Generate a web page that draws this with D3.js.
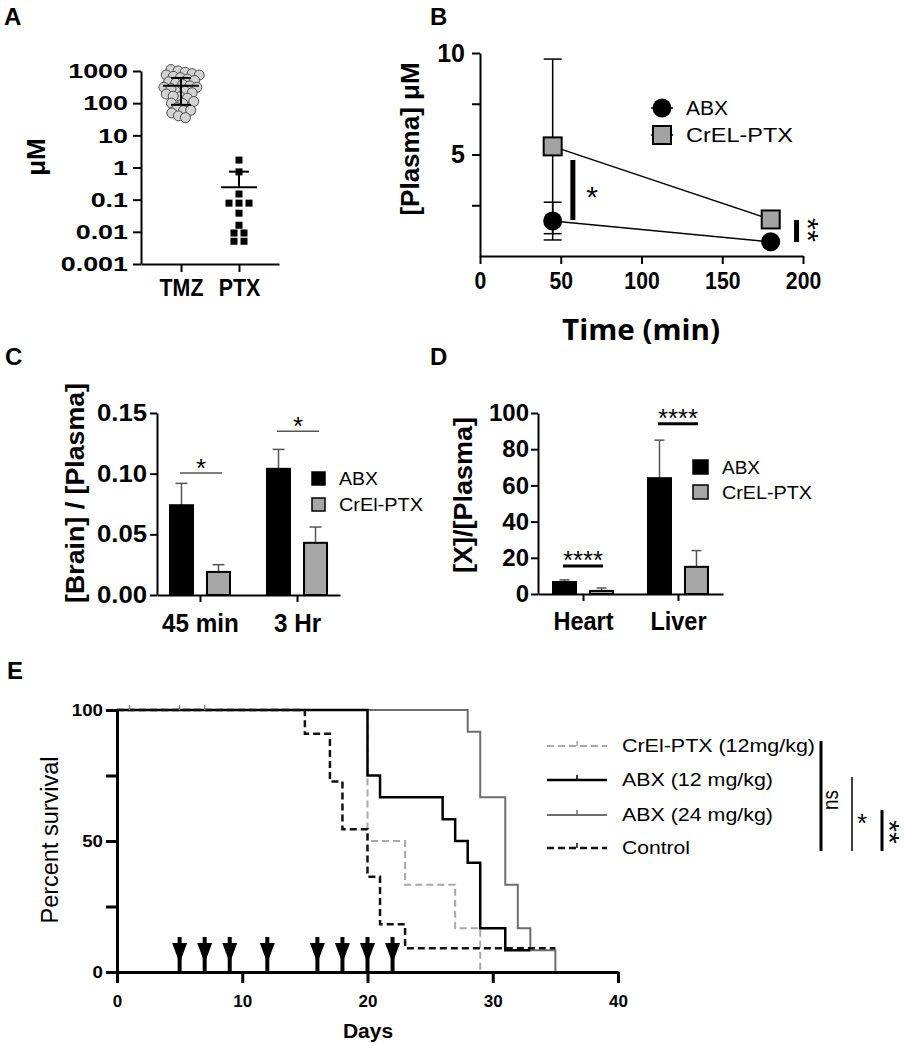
<!DOCTYPE html>
<html><head><meta charset="utf-8">
<script src="https://cdn.jsdelivr.net/npm/d3@7"></script>
<style>body{margin:0;background:#fff} svg{display:block}</style>
</head><body><svg id="fig" width="906" height="1050"></svg>
<script>
// ---------------- DATA ----------------
const panelLetters = ["A","B","C","D","E"];

// Panel A
const groupsA = ["TMZ","PTX"];
const tmzValues = [900,850,800,780,700,650,600,550,500,480,450,420,400,380,350,320,300,280,250,230,200,180,160,140,120,100,90,80,70,60,50,45,40];
const ptxValues = [1.7,0.73,0.15,0.078,0.078,0.078,0.038,0.016,0.0092,0.0092,0.0051,0.0051];
const logTicksA = [1000,100,10,1,0.1,0.01,0.001];
const logTickLabelsA = ["1000","100","10","1","0.1","0.01","0.001"];

// Panel B
const timesB = [45,180];
const abxPlasma = [1.72,0.70];
const abxPlasmaSD = [0.93,0.10];
const crelPlasma = [5.4,1.8];
const crelPlasmaSD = [4.3,0.3];
const ticksBx = [0,50,100,150,200];
const ticksBy = [2.5,5,7.5,10];
const labelsBy = {5:"5",10:"10"};
const seriesB = ["ABX","CrEL-PTX"];

// Panel C
const catsC = ["45 min","3 Hr"];
const seriesC = ["ABX","CrEl-PTX"];
const abxBrain = [0.074,0.104];
const abxBrainSD = [0.018,0.016];
const crelBrain = [0.019,0.043];
const crelBrainSD = [0.006,0.013];
const ticksC = [0,0.05,0.10,0.15];
const tickLabelsC = ["0.00","0.05","0.10","0.15"];

// Panel D
const catsD = ["Heart","Liver"];
const seriesD = ["ABX","CrEL-PTX"];
const abxOrgan = [6.6,64];
const abxOrganSD = [1.2,21];
const crelOrgan = [1.7,15];
const crelOrganSD = [1.6,9];
const ticksD = [0,20,40,60,80,100];

// Panel E (Kaplan-Meier)
const crelDays = [0,20,23,27,29];
const crelSurv = [100,50,33.3,16.7,0];
const abx12Days = [0,20,21,26,27,28,29,31,33];
const abx12Surv = [100,75,66.7,58.3,50,41.7,16.7,8.3,8.3];
const abx24Days = [0,28,29,31,32,33,35];
const abx24Surv = [100,91.7,66.7,33.3,16.7,8.3,0];
const ctrlDays = [0,15,17,18,20,21,23,35];
const ctrlSurv = [100,90.9,72.7,54.5,36.4,18.2,9.1,9.1];
const censorDays = [1,5,7];
const doseDays = [5,7,9,12,16,18,20,22];
const ticksEx = [0,10,20,30,40];
const ticksEy = [0,25,50,75,100];
const legendE = ["CrEl-PTX (12mg/kg)","ABX (12 mg/kg)","ABX (24 mg/kg)","Control"];

// ---------------- HELPERS ----------------
const FONT = '"Liberation Sans", Arial, Helvetica, sans-serif';
const svg = d3.select("#fig");
svg.append("rect").attr("width",906).attr("height",1050).attr("fill","#fff");

function T(p, s, x, y, o = {}) {
  const t = p.append("text").attr("x", x).attr("y", y).text(s)
    .attr("font-family", o.family || FONT)
    .attr("font-size", o.size || 16)
    .attr("font-weight", o.bold ? "bold" : "normal")
    .attr("text-anchor", o.anchor || "start")
    .attr("fill", o.fill || "#000");
  if (o.rotate != null) t.attr("transform", `rotate(${o.rotate},${x},${y})`);
  if (o.width) t.attr("textLength", o.width).attr("lengthAdjust", "spacingAndGlyphs");
  return t;
}
function stretch(sel, sx) {
  sel.each(function () {
    const w = this.getComputedTextLength();
    d3.select(this).attr("textLength", w * sx).attr("lengthAdjust", "spacingAndGlyphs");
  });
}
function styleAxis(g, sw, fs, bold) {
  g.select(".domain").attr("stroke", "#000").attr("stroke-width", sw);
  g.selectAll(".tick line").attr("stroke", "#000").attr("stroke-width", sw);
  g.selectAll("text").attr("font-size", fs).attr("font-weight", bold ? "bold" : "normal")
    .attr("font-family", FONT).attr("fill", "#000");
}

// panel letters
const letterPos = [[4,25],[430,25],[5,365],[430,365],[7,679]];
panelLetters.forEach((L,i)=>T(svg, L, letterPos[i][0], letterPos[i][1], {size:24, bold:true}));

// ---------------- PANEL A ----------------
const gA = svg.append("g");
const yA = d3.scaleLog().domain([0.001,1000]).range([264,71]);
const xA = d3.scalePoint().domain(groupsA).range([141,279]).padding(0.69);
const axYA = gA.append("g").attr("transform","translate(141,0)")
  .call(d3.axisLeft(yA).tickValues(logTicksA).tickFormat((d,i)=>logTickLabelsA[i]).tickSize(8).tickSizeOuter(0).tickPadding(5));
styleAxis(axYA, 2, 21, true); stretch(axYA.selectAll("text"), 1.28);
const axXA = gA.append("g").attr("transform","translate(0,264)")
  .call(d3.axisBottom(xA).tickSize(8).tickSizeOuter(0).tickPadding(8));
styleAxis(axXA, 2, 23, true); stretch(axXA.selectAll("text"), 0.93);
T(gA, "μM", 45, 157, {size:26, bold:true, anchor:"middle", rotate:-90});

// TMZ beeswarm
const cxT = xA("TMZ");
const nodes = tmzValues.map((v,i)=>({v, x: cxT + ((i%5)-2)*3, y: yA(v)}));
const sim = d3.forceSimulation(nodes)
  .force("x", d3.forceX(cxT).strength(0.12))
  .force("y", d3.forceY(d=>yA(d.v)).strength(0.9))
  .force("c", d3.forceCollide(3.6)).stop();
for (let i=0;i<250;i++) sim.tick();
gA.append("g").selectAll("circle").data(nodes).join("circle")
  .attr("cx",d=>d.x).attr("cy",d=>d.y).attr("r",5)
  .attr("fill","#d3d3d3").attr("stroke","#4a4a4a").attr("stroke-width",1);

// PTX squares with horizontal dodge for equal values
const cxP = xA("PTX");
const ptxGroups = d3.groups(ptxValues, v=>v);
ptxGroups.forEach(([v, arr])=>{
  arr.forEach((_,k)=>{
    const dx = (k - (arr.length-1)/2) * 10;
    gA.append("rect").attr("x", cxP+dx-3.5).attr("y", yA(v)-3.5).attr("width",7).attr("height",7).attr("fill","#000");
  });
});
function meanSD(g, cx, vals, yS) {
  const m = d3.mean(vals), s = d3.deviation(vals);
  const top = yS(m+s), bot = (m-s>0) ? yS(m-s) : yS(m);
  g.append("line").attr("x1",cx).attr("x2",cx).attr("y1",top).attr("y2",bot).attr("stroke","#000").attr("stroke-width",2);
  g.append("line").attr("x1",cx-18).attr("x2",cx+18).attr("y1",yS(m)).attr("y2",yS(m)).attr("stroke","#000").attr("stroke-width",2);
  g.append("line").attr("x1",cx-10).attr("x2",cx+10).attr("y1",top).attr("y2",top).attr("stroke","#000").attr("stroke-width",2);
  if (m-s>0) g.append("line").attr("x1",cx-10).attr("x2",cx+10).attr("y1",bot).attr("y2",bot).attr("stroke","#000").attr("stroke-width",2);
}
meanSD(gA, cxT, tmzValues, yA);
meanSD(gA, cxP, ptxValues, yA);

// ---------------- PANEL B ----------------
const gB = svg.append("g");
const xB = d3.scaleLinear().domain([0,200]).range([480,803]);
const yB = d3.scaleLinear().domain([0,10]).range([256,53]);
const axYB = gB.append("g").attr("transform","translate(480,0)")
  .call(d3.axisLeft(yB).tickValues(ticksBy).tickFormat(d=>labelsBy[d]||"").tickSize(8).tickSizeOuter(0).tickPadding(7));
styleAxis(axYB, 2, 25, true);
const axXB = gB.append("g").attr("transform","translate(0,256)")
  .call(d3.axisBottom(xB).tickValues(ticksBx).tickSize(8).tickSizeOuter(0).tickPadding(9));
styleAxis(axXB, 2, 23, true); stretch(axXB.selectAll("text"), 0.92);
T(gB, "[Plasma] μM", 419, 139, {size:26, bold:true, anchor:"middle", rotate:-90});
T(gB, "Time (min)", 641, 340, {size:28, bold:true, anchor:"middle", family:'"Open Sans", sans-serif', width:158});

const lineB = d3.line().x((d,i)=>xB(timesB[i])).y(d=>yB(d));
gB.append("path").attr("d", lineB(crelPlasma)).attr("fill","none").attr("stroke","#000").attr("stroke-width",1.5);
gB.append("path").attr("d", lineB(abxPlasma)).attr("fill","none").attr("stroke","#000").attr("stroke-width",1.5);
function errB(vals, sds) {
  vals.forEach((m,i)=>{
    const x = xB(timesB[i]), t = yB(m+sds[i]), b = yB(Math.max(m-sds[i],0));
    gB.append("line").attr("x1",x).attr("x2",x).attr("y1",t).attr("y2",b).attr("stroke","#000").attr("stroke-width",1.5);
    [t,b].forEach(yy=>gB.append("line").attr("x1",x-9).attr("x2",x+9).attr("y1",yy).attr("y2",yy).attr("stroke","#000").attr("stroke-width",1.5));
  });
}
errB(crelPlasma, crelPlasmaSD);
errB(abxPlasma, abxPlasmaSD);
crelPlasma.forEach((m,i)=>gB.append("rect").attr("x",xB(timesB[i])-9).attr("y",yB(m)-9).attr("width",18).attr("height",18)
  .attr("fill","#a3a3a3").attr("stroke","#000").attr("stroke-width",2));
abxPlasma.forEach((m,i)=>gB.append("circle").attr("cx",xB(timesB[i])).attr("cy",yB(m)).attr("r",9.5).attr("fill","#000"));
// legend B
gB.append("line").attr("x1",651).attr("x2",673).attr("y1",108).attr("y2",108).attr("stroke","#000").attr("stroke-width",1.5);
gB.append("circle").attr("cx",662).attr("cy",108).attr("r",9.5).attr("fill","#000");
gB.append("line").attr("x1",651).attr("x2",673).attr("y1",135).attr("y2",135).attr("stroke","#000").attr("stroke-width",1.5);
gB.append("rect").attr("x",653).attr("y",126).attr("width",18).attr("height",18).attr("fill","#a3a3a3").attr("stroke","#000").attr("stroke-width",2);
T(gB, seriesB[0], 686, 115, {size:20, width:42});
T(gB, seriesB[1], 686, 142, {size:20, width:107});
// significance
gB.append("rect").attr("x",xB(57.5)-2.5).attr("y",yB(4.73)).attr("width",5).attr("height",yB(1.77)-yB(4.73)).attr("fill","#000");
T(gB, "*", 592, 207, {size:30, anchor:"middle"});
gB.append("rect").attr("x",xB(196)-2.5).attr("y",yB(1.77)).attr("width",5).attr("height",yB(0.69)-yB(1.77)).attr("fill","#000");
T(gB, "**", 815-17, 230, {size:30, anchor:"middle", rotate:90, width:24});

// ---------------- PANEL C ----------------
const gC = svg.append("g");
const yC = d3.scaleLinear().domain([0,0.15]).range([595,413]);
const xC = d3.scalePoint().domain(catsC).range([157,340]).padding(0.443);
const subC = d3.scalePoint().domain(seriesC).range([-18.5,18.5]);
const axYC = gC.append("g").attr("transform","translate(157,0)")
  .call(d3.axisLeft(yC).tickValues(ticksC).tickFormat((d,i)=>tickLabelsC[i]).tickSize(7).tickSizeOuter(0).tickPadding(3));
styleAxis(axYC, 2, 23, true); axYC.selectAll("text").attr("textLength",50).attr("lengthAdjust","spacingAndGlyphs");
const axXC = gC.append("g").attr("transform","translate(0,595)")
  .call(d3.axisBottom(xC).tickSize(7).tickSizeOuter(0).tickPadding(12));
styleAxis(axXC, 2, 25, true); stretch(axXC.selectAll("text"), 0.97);
T(gC, "[Brain] / [Plasma]", 84, 493, {size:26, bold:true, anchor:"middle", rotate:-90, width:220});

function bars(g, cats, xS, subS, yS, series, vals, sds, fill, capHalf) {
  vals.forEach((v,i)=>{
    const cx = xS(cats[i]) + subS(series);
    const top = yS(v), et = yS(v+sds[i]);
    g.append("line").attr("x1",cx).attr("x2",cx).attr("y1",top).attr("y2",et).attr("stroke","#555").attr("stroke-width",1.5);
    g.append("line").attr("x1",cx-capHalf).attr("x2",cx+capHalf).attr("y1",et).attr("y2",et).attr("stroke","#555").attr("stroke-width",1.5);
    g.append("rect").attr("x",cx-11.5).attr("y",top).attr("width",23).attr("height",yS(0)-top)
      .attr("fill",fill).attr("stroke","#000").attr("stroke-width",2);
  });
}
bars(gC, catsC, xC, subC, yC, seriesC[0], abxBrain, abxBrainSD, "#000", 6);
bars(gC, catsC, xC, subC, yC, seriesC[1], crelBrain, crelBrainSD, "#a6a6a6", 6);
axXC.raise();
// significance C
[[0.1005,"45 min"],[0.135,"3 Hr"]].forEach(([v,c])=>{
  const cx = xC(c);
  gC.append("line").attr("x1",cx-20).attr("x2",cx+22).attr("y1",yC(v)).attr("y2",yC(v)).attr("stroke","#555").attr("stroke-width",1.5);
  T(gC, "*", cx+1, yC(v)+4, {size:26, anchor:"middle"});
});
// legend C
gC.append("rect").attr("x",312).attr("y",472).attr("width",13).attr("height",13).attr("fill","#000").attr("stroke","#000").attr("stroke-width",1.5);
gC.append("rect").attr("x",312).attr("y",498).attr("width",13).attr("height",13).attr("fill","#a6a6a6").attr("stroke","#000").attr("stroke-width",1.5);
T(gC, seriesC[0], 339, 485, {size:18, width:39});
T(gC, seriesC[1], 339, 511, {size:18, width:84});

// ---------------- PANEL D ----------------
const gD = svg.append("g");
const yD = d3.scaleLinear().domain([0,100]).range([594,413]);
const xD = d3.scalePoint().domain(catsD).range([538,723]).padding(0.474);
const subD = d3.scalePoint().domain(seriesD).range([-18.5,18.5]);
const axYD = gD.append("g").attr("transform","translate(538,0)")
  .call(d3.axisLeft(yD).tickValues(ticksD).tickSize(7).tickSizeOuter(0).tickPadding(2));
styleAxis(axYD, 2, 24, true);
const axXD = gD.append("g").attr("transform","translate(0,594)")
  .call(d3.axisBottom(xD).tickSize(7).tickSizeOuter(0).tickPadding(11));
styleAxis(axXD, 2, 25, true); stretch(axXD.selectAll("text"), 0.94);
T(gD, "[X]/[Plasma]", 472, 495, {size:26, bold:true, anchor:"middle", rotate:-90, width:156});
bars(gD, catsD, xD, subD, yD, seriesD[0], abxOrgan, abxOrganSD, "#000", 5);
bars(gD, catsD, xD, subD, yD, seriesD[1], crelOrgan, crelOrganSD, "#a6a6a6", 5);
axXD.raise();
[[15.5,"Heart"],[94,"Liver"]].forEach(([v,c])=>{
  const cx = xD(c);
  gD.append("line").attr("x1",cx-20).attr("x2",cx+20).attr("y1",yD(v)).attr("y2",yD(v)).attr("stroke","#000").attr("stroke-width",3);
  T(gD, "****", cx, yD(v)+3, {size:26, anchor:"middle", width:40});
});
gD.append("rect").attr("x",693).attr("y",460).attr("width",15).attr("height",14).attr("fill","#000").attr("stroke","#000").attr("stroke-width",1.5);
gD.append("rect").attr("x",693).attr("y",485).attr("width",15).attr("height",14).attr("fill","#a6a6a6").attr("stroke","#000").attr("stroke-width",1.5);
T(gD, seriesD[0], 722, 474, {size:18, width:38});
T(gD, seriesD[1], 722, 499, {size:18, width:90});

// ---------------- PANEL E ----------------
const gE = svg.append("g");
const xE = d3.scaleLinear().domain([0,40]).range([117,618]);
const yE = d3.scaleLinear().domain([0,100]).range([972,710]);
const stepLine = d3.line().x(d=>xE(d[0])).y(d=>yE(d[1])).curve(d3.curveStepAfter);
const curvesE = [
  {days:abx24Days, surv:abx24Surv, color:"#6e6e6e", w:2, dash:null},
  {days:crelDays, surv:crelSurv, color:"#a8a8a8", w:2, dash:"7,4"},
  {days:abx12Days, surv:abx12Surv, color:"#000", w:2.5, dash:null},
  {days:ctrlDays, surv:ctrlSurv, color:"#111", w:2.5, dash:"7,4"}
];
curvesE.forEach(c=>{
  gE.append("path").attr("d", stepLine(c.days.map((d,i)=>[d,c.surv[i]])))
    .attr("fill","none").attr("stroke",c.color).attr("stroke-width",c.w)
    .attr("stroke-dasharray",c.dash);
});
censorDays.forEach(d=>gE.append("line").attr("x1",xE(d)).attr("x2",xE(d)).attr("y1",yE(100)).attr("y2",yE(100)-5).attr("stroke","#888").attr("stroke-width",1.5));

const axYE = gE.append("g").attr("transform","translate(117,0)")
  .call(d3.axisLeft(yE).tickValues(ticksEy).tickFormat(d=>d%50===0?d:"").tickSize(11).tickSizeOuter(0).tickPadding(3));
styleAxis(axYE, 3, 17, true); stretch(axYE.selectAll("text"), 1.1);
const axXE = gE.append("g").attr("transform","translate(0,972)")
  .call(d3.axisBottom(xE).tickValues(ticksEx).tickSize(11).tickSizeOuter(0).tickPadding(12));
styleAxis(axXE, 3, 17, true);
T(gE, "Percent survival", 58, 840, {size:23, anchor:"middle", rotate:-90, width:167});
T(gE, "Days", 368, 1038, {size:21, bold:true, anchor:"middle"});

// dosing arrows
doseDays.forEach(d=>{
  const x = xE(d);
  gE.append("line").attr("x1",x).attr("x2",x).attr("y1",937).attr("y2",yE(0)).attr("stroke","#000").attr("stroke-width",4);
  gE.append("path").attr("d",`M${x-7.5},943 L${x+7.5},943 L${x},963 Z`).attr("fill","#000");
});

// legend E
const legRows = [746,780,815,848];
const legStyles = [curvesE[1], curvesE[2], curvesE[0], curvesE[3]];
legendE.forEach((s,i)=>{
  const y = legRows[i], st = legStyles[i];
  gE.append("line").attr("x1",547).attr("x2",607).attr("y1",y).attr("y2",y)
    .attr("stroke",st.color).attr("stroke-width",st.w).attr("stroke-dasharray",st.dash);
  gE.append("line").attr("x1",577).attr("x2",577).attr("y1",y).attr("y2",y-5).attr("stroke",st.color).attr("stroke-width",1.5);
});
T(gE, legendE[0], 622, 752, {size:17.5, width:193});
T(gE, legendE[1], 622, 786, {size:17.5, width:151});
T(gE, legendE[2], 622, 821, {size:17.5, width:151});
T(gE, legendE[3], 622, 854, {size:17.5, width:68});
// significance E
gE.append("line").attr("x1",821).attr("x2",821).attr("y1",741).attr("y2",851).attr("stroke","#000").attr("stroke-width",3);
T(gE, "ns", 838, 800, {size:22, anchor:"middle", rotate:-90, width:20});
gE.append("line").attr("x1",852).attr("x2",852).attr("y1",777).attr("y2",851).attr("stroke","#000").attr("stroke-width",1.5);
T(gE, "*", 862, 832, {size:26, anchor:"middle"});
gE.append("line").attr("x1",882).attr("x2",882).attr("y1",810).attr("y2",851).attr("stroke","#000").attr("stroke-width",3);
T(gE, "**", 880, 832, {size:28, anchor:"middle", rotate:90, width:24});
</script></body></html>
